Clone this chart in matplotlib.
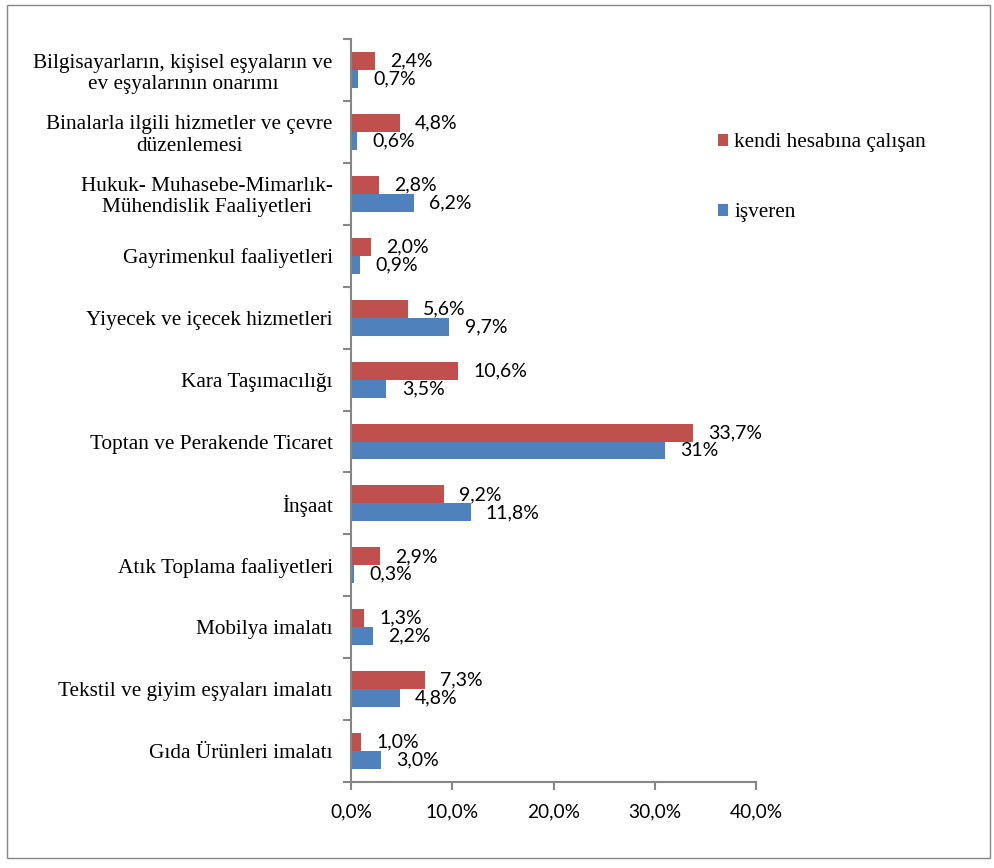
import matplotlib.pyplot as plt
import numpy as np
from matplotlib.patches import Rectangle

categories = [
    "Gıda Ürünleri imalatı",
    "Tekstil ve giyim eşyaları imalatı",
    "Mobilya imalatı",
    "Atık Toplama faaliyetleri",
    "İnşaat",
    "Toptan ve Perakende Ticaret",
    "Kara Taşımacılığı",
    "Yiyecek ve içecek hizmetleri",
    "Gayrimenkul faaliyetleri",
    "Hukuk- Muhasebe-Mimarlık-\nMühendislik Faaliyetleri",
    "Binalarla ilgili hizmetler ve çevre\ndüzenlemesi",
    "Bilgisayarların, kişisel eşyaların ve\nev eşyalarının onarımı",
]
kendi = [1.0, 7.3, 1.3, 2.9, 9.2, 33.7, 10.6, 5.6, 2.0, 2.8, 4.8, 2.4]
isveren = [3.0, 4.8, 2.2, 0.3, 11.8, 31, 3.5, 9.7, 0.9, 6.2, 0.6, 0.7]
kendi_labels = ["1,0%", "7,3%", "1,3%", "2,9%", "9,2%", "33,7%",
                "10,6%", "5,6%", "2,0%", "2,8%", "4,8%", "2,4%"]
isveren_labels = ["3,0%", "4,8%", "2,2%", "0,3%", "11,8%", "31%",
                  "3,5%", "9,7%", "0,9%", "6,2%", "0,6%", "0,7%"]
xticks = [0, 10, 20, 30, 40]
xtick_labels = ["0,0%", "10,0%", "20,0%", "30,0%", "40,0%"]

red = "#C0504D"
blue = "#4F81BD"
axis_gray = "#868686"

fig = plt.figure(figsize=(9.94, 8.68), dpi=100)
ax = fig.add_axes([0.353, 0.099, 0.408, 0.856])

y = np.arange(len(categories))
h = 0.29
b1 = ax.barh(y + h / 2, kendi, height=h, color=red, label="kendi hesabına çalışan")
b2 = ax.barh(y - h / 2, isveren, height=h, color=blue, label="işveren")

for bars, labels in ((b1, kendi_labels), (b2, isveren_labels)):
    for bar, lab in zip(bars, labels):
        ax.annotate(lab, (bar.get_width(), bar.get_y() + bar.get_height() / 2),
                    xytext=(11, 0), textcoords="offset points",
                    va="center", ha="left", fontsize=14, family="Lato")

ax.set_xlim(0, 40)
ax.set_ylim(-0.5, len(categories) - 0.5)
ax.set_xticks(xticks)
ax.set_xticklabels(xtick_labels, family="Lato", fontsize=13.8)
ax.set_yticks(y)
ax.set_yticklabels(categories, family="Liberation Serif", fontsize=15.3,
                   linespacing=1.15, multialignment="center")
ax.tick_params(axis="y", length=0, pad=13)
ax.set_yticks(np.arange(-0.5, len(categories)), minor=True)
ax.tick_params(axis="y", which="minor", length=6, color=axis_gray, width=1.5)
ax.tick_params(axis="x", length=6, color=axis_gray, width=1.5, pad=9)

for s in ("top", "right"):
    ax.spines[s].set_visible(False)
for s in ("left", "bottom"):
    ax.spines[s].set_color(axis_gray)
    ax.spines[s].set_linewidth(1.5)

ax.legend(loc="upper left", bbox_to_anchor=(0.906, 0.873), frameon=False,
          borderpad=0, borderaxespad=0,
          prop={"family": "Liberation Serif", "size": 15.3},
          handlelength=0.45, handleheight=0.45, handletextpad=0.3,
          labelspacing=2.4)

fig.patches.append(Rectangle((0.007, 0.012), 0.989, 0.982, transform=fig.transFigure,
                             fill=False, edgecolor=axis_gray, linewidth=1))

fig.savefig("out.png", dpi=100)
